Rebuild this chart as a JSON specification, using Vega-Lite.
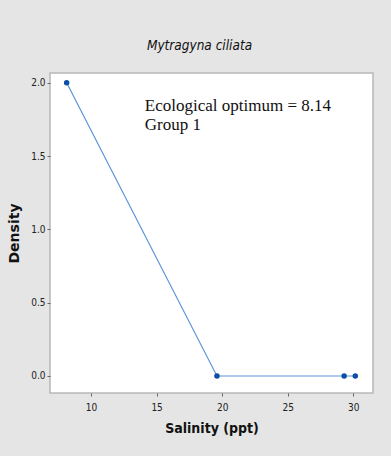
{
  "$schema": "https://vega.github.io/schema/vega-lite/v6.json",
  "autosize": {"type": "none"},
  "width": 323,
  "height": 320,
  "padding": {"left": 50, "top": 73, "right": 18, "bottom": 63},
  "background": "#e5e5e5",
  "config": {
    "view": {"fill": "white", "stroke": "#b8b8b8", "strokeWidth": 1.5},
    "axis": {"grid": false, "domain": false, "tickColor": "#666666", "tickSize": 3, "labelColor": "#222222", "labelFont": "DejaVu Sans Condensed, Roboto Condensed, Roboto", "labelFontSize": 10, "titleColor": "#111111"}
  },
  "title": {
    "text": "Mytragyna ciliata",
    "font": "DejaVu Sans Condensed, Roboto",
    "fontStyle": "italic",
    "fontWeight": "normal",
    "fontSize": 13.5,
    "color": "#111111",
    "anchor": "middle",
    "dx": -12,
    "offset": 21
  },
  "datasets": {
    "pts": [
      {"salinity": 8.14, "density": 2.0},
      {"salinity": 19.6, "density": 0.0},
      {"salinity": 29.3, "density": 0.0},
      {"salinity": 30.15, "density": 0.0}
    ],
    "note": [
      {"x": 14.1, "y": 1.81, "label": "Ecological optimum = 8.14\nGroup 1"}
    ]
  },
  "layer": [
    {
      "data": {"name": "pts"},
      "mark": {"type": "line", "color": "#5d95d8", "strokeWidth": 1.2},
      "encoding": {
        "x": {"field": "salinity", "type": "quantitative", "scale": {"domain": [6.87, 31.5], "nice": false, "zero": false},
          "axis": {"values": [10, 15, 20, 25, 30], "title": "Salinity (ppt)", "titleFont": "DejaVu Sans Condensed, Roboto", "titleFontSize": 14, "titleFontWeight": "bold", "titlePadding": 9, "labelPadding": 6}},
        "y": {"field": "density", "type": "quantitative", "scale": {"domain": [-0.116, 2.066], "nice": false, "zero": false},
          "axis": {"values": [0, 0.5, 1, 1.5, 2], "format": ".1f", "title": "Density", "titleFont": "DejaVu Sans", "titleFontSize": 14, "titleFontWeight": "bold", "titlePadding": 9, "labelPadding": 2}}
      }
    },
    {
      "data": {"name": "pts"},
      "mark": {"type": "point", "shape": "circle", "filled": true, "color": "#0d4ea8", "size": 30, "opacity": 1},
      "encoding": {
        "x": {"field": "salinity", "type": "quantitative"},
        "y": {"field": "density", "type": "quantitative"}
      }
    },
    {
      "data": {"name": "note"},
      "mark": {"type": "text", "align": "left", "baseline": "alphabetic", "font": "Liberation Serif, Times New Roman, serif", "fontSize": 17, "lineBreak": "\n", "lineHeight": 19, "color": "#111111"},
      "encoding": {
        "x": {"field": "x", "type": "quantitative"},
        "y": {"field": "y", "type": "quantitative"},
        "text": {"field": "label"}
      }
    }
  ]
}
